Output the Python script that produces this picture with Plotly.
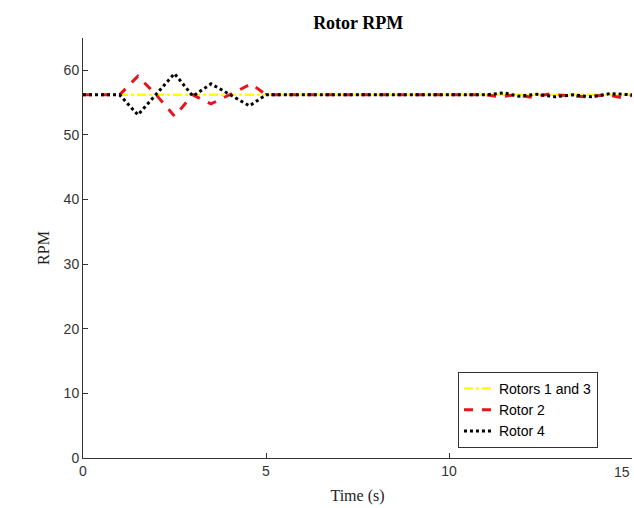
import plotly.graph_objects as go

# Time samples (s) and rotor speeds (RPM)
t_13 = [0, 15]
rpm_13 = [56.2, 56.2]

t_r2 = [0, 1.0, 1.5, 2.0, 2.5, 3.0, 3.5, 4.6, 5.0, 11.0, 11.4, 11.8, 12.3, 12.7, 13.2, 13.7, 14.3, 14.7, 15.0]
rpm_r2 = [56.2, 56.2, 59.1, 56.2, 52.9, 56.2, 54.8, 57.9, 56.2, 56.2, 55.9, 56.2, 55.8, 56.3, 56.1, 55.9, 56.2, 55.8, 56.1]

t_r4 = [0, 1.0, 1.5, 2.5, 3.0, 3.5, 4.55, 5.0, 11.0, 11.5, 11.9, 12.4, 12.9, 13.4, 13.9, 14.4, 15.0]
rpm_r4 = [56.2, 56.2, 53.1, 59.5, 56.0, 57.9, 54.5, 56.2, 56.2, 56.5, 56.0, 56.3, 55.9, 56.2, 55.9, 56.4, 56.2]

x_ticks = [0, 5, 10, 15]
y_ticks = [0, 10, 20, 30, 40, 50, 60]

tick_font = dict(family="Liberation Sans, Arial", size=14, color="#333333")

fig = go.Figure()
fig.add_trace(go.Scatter(x=t_13, y=rpm_13, mode="lines", name="Rotors 1 and 3",
                         line=dict(color="#FFFF00", width=2.5, dash="dashdot")))
fig.add_trace(go.Scatter(x=t_r2, y=rpm_r2, mode="lines", name="Rotor 2",
                         line=dict(color="#E8141B", width=3, dash="dash")))
fig.add_trace(go.Scatter(x=t_r4, y=rpm_r4, mode="lines", name="Rotor 4",
                         line=dict(color="black", width=3, dash="dot")))

axis_common = dict(showline=True, linecolor="#333333", linewidth=1, ticks="inside",
                   ticklen=5, tickcolor="#333333", showgrid=False, zeroline=False,
                   tickfont=tick_font)

# the last x tick label sits at the right edge of the figure, kept inside it
fig.add_annotation(x=x_ticks[-1], y=0, xref="x", yref="paper", text=str(x_ticks[-1]),
                   showarrow=False, yanchor="top", xanchor="right", yshift=-4,
                   font=tick_font)

fig.update_layout(
    width=634, height=508,
    margin=dict(l=83, r=2, t=38, b=50),
    paper_bgcolor="white", plot_bgcolor="white",
    title=dict(text="<b>Rotor RPM</b>", x=0.565, xanchor="center", y=0.955, yanchor="middle",
               font=dict(family="Liberation Serif, Times New Roman", size=18, color="black")),
    xaxis=dict(range=[0, 15], tickvals=x_ticks, automargin=False,
               title=dict(text="Time (s)", standoff=12,
                          font=dict(family="Liberation Serif, Times New Roman", size=16, color="#222222")),
               **axis_common),
    yaxis=dict(range=[0, 65], tickvals=y_ticks, automargin=False,
               title=dict(text="RPM", standoff=10,
                          font=dict(family="Liberation Serif, Times New Roman", size=16, color="#222222")),
               **axis_common),
    legend=dict(x=0.683, y=0.205, xanchor="left", yanchor="top",
                bordercolor="#333333", borderwidth=1, bgcolor="white",
                font=dict(family="Liberation Sans, Arial", size=14, color="black"),
                tracegroupgap=0, itemwidth=30),
    showlegend=True,
)

fig.write_html("out.html")
